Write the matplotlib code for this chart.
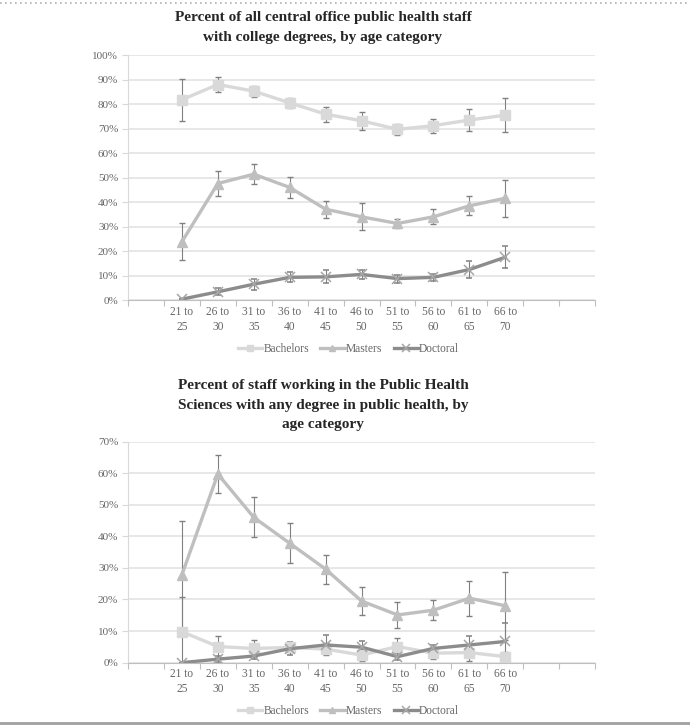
import matplotlib.pyplot as plt
import numpy as np

plt.rcParams['font.family'] = ['Liberation Serif', 'DejaVu Serif']

ages = ["21 to\n25", "26 to\n30", "31 to\n35", "36 to\n40", "41 to\n45",
        "46 to\n50", "51 to\n55", "56 to\n60", "61 to\n65", "66 to\n70"]

# chart 1: all central office staff with college degrees (%)
bach1 = [81.8, 88.0, 85.3, 80.5, 75.9, 73.2, 69.7, 71.2, 73.5, 75.5]
bach1_err = [8.5, 3.0, 2.2, 2.0, 3.0, 3.6, 2.3, 2.9, 4.5, 7.0]
mast1 = [23.8, 47.6, 51.4, 46.0, 37.1, 34.0, 31.3, 34.0, 38.5, 41.6]
mast1_err = [7.5, 5.0, 4.2, 4.2, 3.5, 5.5, 2.0, 3.1, 3.9, 7.5]
doct1 = [0.4, 3.4, 6.5, 9.3, 9.5, 10.5, 8.8, 9.3, 12.5, 17.5]
doct1_err = [0.0, 1.5, 2.3, 2.0, 2.7, 2.0, 1.6, 1.3, 3.5, 4.5]

# chart 2: public health sciences staff with a public health degree (%)
bach2 = [9.8, 5.1, 4.5, 4.8, 4.3, 2.4, 5.1, 3.0, 3.2, 1.9]
bach2_err = [11.0, 3.3, 2.7, 1.5, 2.0, 2.0, 2.7, 2.0, 2.8, 1.5]
mast2 = [27.8, 59.7, 46.0, 37.8, 29.6, 19.5, 15.1, 16.6, 20.4, 18.0]
mast2_err = [17.0, 6.0, 6.3, 6.4, 4.6, 4.3, 4.0, 3.2, 5.5, 10.7]
doct2 = [0.0, 1.1, 2.1, 4.4, 5.6, 4.9, 1.9, 4.5, 5.6, 6.7]
doct2_err = [0.0, 1.0, 1.0, 2.0, 3.0, 2.0, 1.0, 1.0, 2.7, 6.0]

series_names = ["Bachelors", "Masters", "Doctoral"]
line_colors = ["#d9d9d9", "#bfbfbf", "#8c8c8c"]
marker_colors = ["#d9d9d9", "#bfbfbf", "#a6a6a6"]
markers = ["s", "^", "x"]

fig = plt.figure(figsize=(6.9, 7.25), dpi=100)


def draw(ax, series, errs, ymax, title, title_y, legend_y):
    x = np.arange(1, len(ages) + 1)
    handles = []
    for vals, err, lc, mc, mk in zip(series, errs, line_colors,
                                     marker_colors, markers):
        c = ax.errorbar(x, vals, yerr=err, color=lc, lw=2.4, marker=mk,
                        markersize=6.5 if mk != "x" else 7, mfc=mc, mec=mc,
                        mew=1.1 if mk == "x" else 1, ecolor="#808080",
                        elinewidth=0.8, capsize=2.5, capthick=0.8)
        handles.append(c[0])
    ax.set_xlim(-0.5, 12.5)
    ax.set_ylim(0, ymax)
    ax.set_yticks(np.arange(0, ymax + 1, 10))
    ax.set_yticklabels([f"{v}%" for v in range(0, ymax + 1, 10)])
    ax.set_xticks(np.arange(-0.5, 13, 1))
    ax.set_xticklabels([])
    ax.set_xticks(x, minor=True)
    ax.set_xticklabels(ages, minor=True, linespacing=1.35)
    ax.tick_params(axis="x", which="major", length=4, color="#bfbfbf")
    ax.tick_params(axis="x", which="minor", length=0, pad=4,
                   labelsize=8.3, labelcolor="#666666")
    ax.tick_params(axis="y", length=4, color="#d9d9d9", labelsize=8,
                   labelcolor="#666666", pad=3)
    ax.grid(axis="y", color="#e3e3e3", lw=1.2)
    ax.set_axisbelow(True)
    for s in ["top", "right"]:
        ax.spines[s].set_visible(False)
    ax.spines["left"].set_color("#d9d9d9")
    ax.spines["bottom"].set_color("#bfbfbf")
    fig.text(0.468, title_y, title, ha="center", va="top", fontsize=11,
             fontweight="bold", color="#262626", linespacing=1.65)
    ax.legend(handles, series_names, loc="center",
              bbox_to_anchor=(0.505, legend_y), ncol=3, frameon=False,
              fontsize=8.3, handlelength=2.1, columnspacing=1.0,
              handletextpad=0.1, labelcolor="#666666", markerscale=0.75,
              bbox_transform=fig.transFigure)


ax1 = fig.add_axes([0.1855, 0.586, 0.677, 0.338])
draw(ax1, [bach1, mast1, doct1], [bach1_err, mast1_err, doct1_err], 100,
     "Percent of all central office public health staff\nwith college degrees, by age category",
     1 - 11 / 725, 1 - 349 / 725)

ax2 = fig.add_axes([0.1855, 0.086, 0.677, 0.305])
draw(ax2, [bach2, mast2, doct2], [bach2_err, mast2_err, doct2_err], 70,
     "Percent of staff working in the Public Health\nSciences with any degree in public health, by\nage category",
     1 - 379 / 725, 1 - 711 / 725)

# frame lines of the page
fig.add_artist(plt.Line2D([0, 1], [0.996, 0.996], color="#b0b0b0", lw=1.2,
                          ls=(0, (1, 2)), transform=fig.transFigure))
fig.add_artist(plt.Line2D([0, 1], [0.003, 0.003], color="#a0a0a0", lw=2,
                          transform=fig.transFigure))

fig.savefig("out.png", dpi=100)
